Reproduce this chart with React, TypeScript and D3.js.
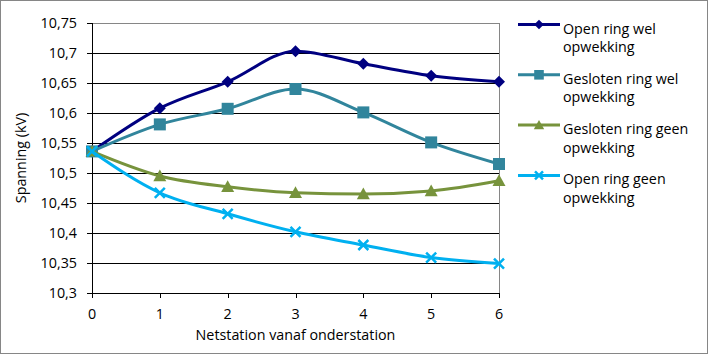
import React from "react";
import * as d3 from "d3";

const xValues = [0, 1, 2, 3, 4, 5, 6];
const yTicks = [10.3, 10.35, 10.4, 10.45, 10.5, 10.55, 10.6, 10.65, 10.7, 10.75];
const seriesNames = [
  ["Open ring wel", "opwekking"],
  ["Gesloten ring wel", "opwekking"],
  ["Gesloten ring geen", "opwekking"],
  ["Open ring geen", "opwekking"],
];
const openWel = [10.536, 10.608, 10.652, 10.703, 10.682, 10.662, 10.652];
const geslotenWel = [10.536, 10.581, 10.607, 10.64, 10.601, 10.551, 10.515];
const geslotenGeen = [10.536, 10.495, 10.477, 10.467, 10.465, 10.47, 10.487];
const openGeen = [10.536, 10.467, 10.432, 10.402, 10.38, 10.359, 10.349];
const seriesValues = [openWel, geslotenWel, geslotenGeen, openGeen];
const colors = ["#000080", "#31859C", "#77933C", "#00B0F0"];
const markers = ["diamond", "square", "triangle", "x"];

const W = 708, H = 354;
const L = 92, R = 499, T = 23, B = 293;
const font = "'Open Sans', sans-serif";
const FS = 14.3;

function Marker({ type, x, y, color, k = 1 }: { type: string; x: number; y: number; color: string; k?: number }) {
  if (type === "diamond") {
    const s = 6 * k;
    return <path d={`M${x},${y - s}L${x + s},${y}L${x},${y + s}L${x - s},${y}Z`} fill={color} />;
  }
  if (type === "square") {
    const s = 6 * k;
    return <rect x={x - s} y={y - s} width={2 * s} height={2 * s} fill={color} />;
  }
  if (type === "triangle") {
    const s = 6.5 * k;
    return <path d={`M${x},${y - s}L${x + s},${y + s * 0.8}L${x - s},${y + s * 0.8}Z`} fill={color} />;
  }
  const s = 5 * k;
  return (
    <path d={`M${x - s},${y - s}L${x + s},${y + s}M${x - s},${y + s}L${x + s},${y - s}`} stroke={color} strokeWidth={2.5} fill="none" />
  );
}

export default function App() {
  const x = d3.scaleLinear().domain([0, 6]).range([L, R]);
  const y = d3.scaleLinear().domain([10.3, 10.75]).range([B, T]);
  const line = d3
    .line<number>()
    .x((_, i) => x(xValues[i]))
    .y((d) => y(d))
    .curve(d3.curveMonotoneX);
  const fmt = (v: number) => String(+v.toFixed(2)).replace(".", ",");

  return (
    <svg width={W} height={H} style={{ position: "absolute", left: 0, top: 0 }} fontFamily={font}>
      <rect x={0.5} y={0.5} width={W - 1} height={H - 1} fill="#fff" stroke="#868686" />
      {yTicks.map((t) => (
        <g key={t}>
          {t > 10.3 && t < 10.75 && (
            <line x1={L} x2={R} y1={Math.round(y(t)) + 0.5} y2={Math.round(y(t)) + 0.5} stroke="#000" />
          )}
          <line x1={L - 5} x2={L} y1={Math.round(y(t)) + 0.5} y2={Math.round(y(t)) + 0.5} stroke="#000" />
          <text x={L - 15} y={y(t)} dy="0.35em" textAnchor="end" fontSize={FS} fill="#000">
            {fmt(t)}
          </text>
        </g>
      ))}
      <line x1={L} x2={R} y1={T + 0.5} y2={T + 0.5} stroke="#868686" />
      <line x1={R + 0.5} x2={R + 0.5} y1={T} y2={B} stroke="#868686" />
      <line x1={L + 0.5} x2={L + 0.5} y1={T} y2={B + 1} stroke="#000" />
      <line x1={L} x2={R + 1} y1={B + 0.5} y2={B + 0.5} stroke="#000" />
      {xValues.map((v) => (
        <g key={v}>
          <line x1={Math.round(x(v)) + 0.5} x2={Math.round(x(v)) + 0.5} y1={B} y2={B + 5} stroke="#000" />
          <text x={x(v)} y={314} dy="0.35em" textAnchor="middle" fontSize={FS} fill="#000">
            {v}
          </text>
        </g>
      ))}
      <text x={(L + R) / 2} y={335} dy="0.35em" textAnchor="middle" fontSize={FS} fill="#000">
        Netstation vanaf onderstation
      </text>
      <text transform={`translate(21,${(T + B) / 2}) rotate(-90)`} dy="0.35em" textAnchor="middle" fontSize={FS} fill="#000">
        Spanning (kV)
      </text>
      {seriesValues.map((vals, si) => (
        <g key={si}>
          <path d={line(vals) || ""} fill="none" stroke={colors[si]} strokeWidth={3} />
          {vals.map((v, i) => (
            <Marker key={i} type={markers[si]} x={x(xValues[i])} y={y(v)} color={colors[si]} />
          ))}
        </g>
      ))}
      {seriesNames.map((name, si) => {
        const ly = 24.5 + si * 50.3;
        return (
          <g key={si}>
            <line x1={518} x2={560} y1={ly} y2={ly} stroke={colors[si]} strokeWidth={3} />
            <Marker type={markers[si]} x={539} y={ly} color={colors[si]} k={0.8} />
            <text x={563} y={ly + 4} dy="0.35em" fontSize={FS} fill="#000">
              {name[0]}
            </text>
            <text x={563} y={ly + 22.5} dy="0.35em" fontSize={FS} fill="#000">
              {name[1]}
            </text>
          </g>
        );
      })}
    </svg>
  );
}
